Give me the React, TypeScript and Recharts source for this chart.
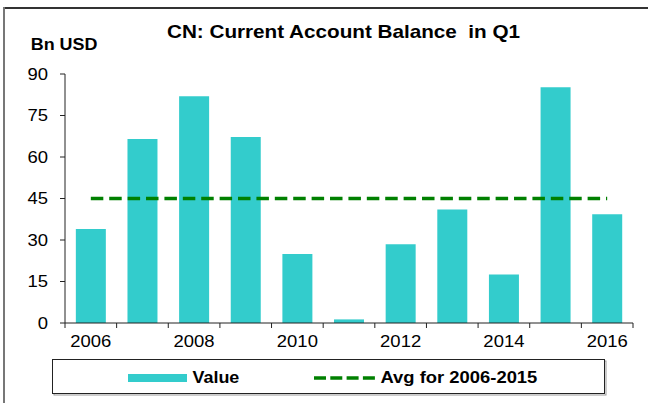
import React from 'react';
import { ComposedChart, Bar, Line, XAxis, YAxis } from 'recharts';

const years = ['2006', '2007', '2008', '2009', '2010', '2011', '2012', '2013', '2014', '2015', '2016'];
const values = [34, 66.5, 82, 67.2, 24.9, 1.3, 28.5, 41, 17.5, 85.2, 39.3];
const avgValues = [45, 45, 45, 45, 45, 45, 45, 45, 45, 45, 45];
const yTicks = [0, 15, 30, 45, 60, 75, 90];
const labelYears = ['2006', '2008', '2010', '2012', '2014', '2016'];

const title = 'CN: Current Account Balance  in Q1';
const unitLabel = 'Bn USD';
const legendValue = 'Value';
const legendAvg = 'Avg for 2006-2015';

const data = years.map((y, i) => ({ year: y, value: values[i], avg: avgValues[i] }));

const FONT = '"Liberation Sans", Arial, sans-serif';
const BAR = '#33CCCC';
const GREEN = '#008000';
const AXIS = '#222';
const SX = 1.12;

const CHART_W = 648;
const CHART_H = 403;
const MARGIN = { top: 74, right: 15, bottom: 79, left: 0 };
const Y_AXIS_W = 65;
const TICK_SIZE = 5;
const TICK_MARGIN = 7;
const TICK_FONT = 16.5;

const XTick = (props: any) => {
  const { x, y, payload, index, visibleTicksCount } = props;
  const count = visibleTicksCount || years.length;
  const plotW = CHART_W - MARGIN.left - MARGIN.right - Y_AXIS_W;
  const band = plotW / count;
  const lineTop = y - TICK_SIZE - TICK_MARGIN;
  const lineBottom = y - TICK_MARGIN;
  const label = String(payload.value);
  const show = labelYears.includes(label);
  return (
    <g>
      <line x1={x - band / 2} x2={x - band / 2} y1={lineTop} y2={lineBottom} stroke={AXIS} strokeWidth={1} />
      {index === count - 1 ? (
        <line x1={x + band / 2} x2={x + band / 2} y1={lineTop} y2={lineBottom} stroke={AXIS} strokeWidth={1} />
      ) : null}
      {show ? (
        <text
          transform={`translate(${x},${y}) scale(${SX},1)`}
          dy="0.71em"
          textAnchor="middle"
          fill="#000"
          fontSize={TICK_FONT}
          fontFamily={FONT}
        >
          {label}
        </text>
      ) : null}
    </g>
  );
};

const YTick = (props: any) => {
  const { x, y, payload } = props;
  return (
    <text
      transform={`translate(${x},${y}) scale(${SX},1)`}
      dy="0.355em"
      textAnchor="end"
      fill="#000"
      fontSize={TICK_FONT}
      fontFamily={FONT}
    >
      {String(payload.value)}
    </text>
  );
};

export default function App() {
  return (
    <div
      style={{
        position: 'fixed',
        left: 0,
        top: 0,
        width: CHART_W,
        height: CHART_H,
        background: '#fff',
        overflow: 'hidden',
        fontFamily: FONT,
      }}
    >
      <div style={{ position: 'absolute', left: 0, top: 0 }}>
        <ComposedChart width={CHART_W} height={CHART_H} data={data} margin={MARGIN} barCategoryGap="21%">
          <XAxis
            dataKey="year"
            height={1}
            interval={0}
            axisLine={{ stroke: AXIS, strokeWidth: 1 }}
            tickLine={false}
            tickSize={TICK_SIZE}
            tickMargin={TICK_MARGIN}
            tick={<XTick />}
          />
          <YAxis
            width={Y_AXIS_W}
            domain={[0, 90]}
            ticks={yTicks}
            interval={0}
            tickSize={5}
            tickMargin={12}
            axisLine={{ stroke: AXIS, strokeWidth: 1 }}
            tickLine={{ stroke: AXIS, strokeWidth: 1 }}
            tick={<YTick />}
          />
          <Bar dataKey="value" fill={BAR} isAnimationActive={false} />
          <Line
            dataKey="avg"
            stroke={GREEN}
            strokeWidth={3.5}
            strokeDasharray="12.5 5.9"
            dot={false}
            activeDot={false}
            isAnimationActive={false}
          />
        </ComposedChart>
      </div>
      <svg
        width={CHART_W}
        height={CHART_H}
        style={{ position: 'absolute', left: 0, top: 0, pointerEvents: 'none' }}
      >
        <line x1={4} y1={8} x2={CHART_W} y2={8} stroke="#333" strokeWidth={2} />
        <line x1={4} y1={7} x2={4} y2={CHART_H} stroke="#777" strokeWidth={2} />
        <text
          transform="translate(343.5,37.7) scale(1.15,1)"
          textAnchor="middle"
          fontWeight="bold"
          fontSize={18}
          fontFamily={FONT}
          fill="#000"
          style={{ whiteSpace: 'pre' }}
        >
          {title}
        </text>
        <text
          transform="translate(30.7,50) scale(1.1,1)"
          fontWeight="bold"
          fontSize={16.3}
          fontFamily={FONT}
          fill="#000"
        >
          {unitLabel}
        </text>
        <rect x={54} y={361} width={552} height={34} fill="none" stroke="#999" strokeWidth={1} />
        <rect x={52.5} y={359.5} width={552} height={34} fill="#fff" stroke="#222" strokeWidth={1} />
        <rect x={128} y={374} width={59} height={8} fill={BAR} />
        <text
          transform="translate(192.5,383.3) scale(1.1,1)"
          fontWeight="bold"
          fontSize={16.3}
          fontFamily={FONT}
          fill="#000"
        >
          {legendValue}
        </text>
        <line x1={314} y1={378} x2={375} y2={378} stroke={GREEN} strokeWidth={3.5} strokeDasharray="12 4.3" />
        <text
          transform="translate(380.5,383.3) scale(1.13,1)"
          fontWeight="bold"
          fontSize={16.3}
          fontFamily={FONT}
          fill="#000"
        >
          {legendAvg}
        </text>
      </svg>
    </div>
  );
}
